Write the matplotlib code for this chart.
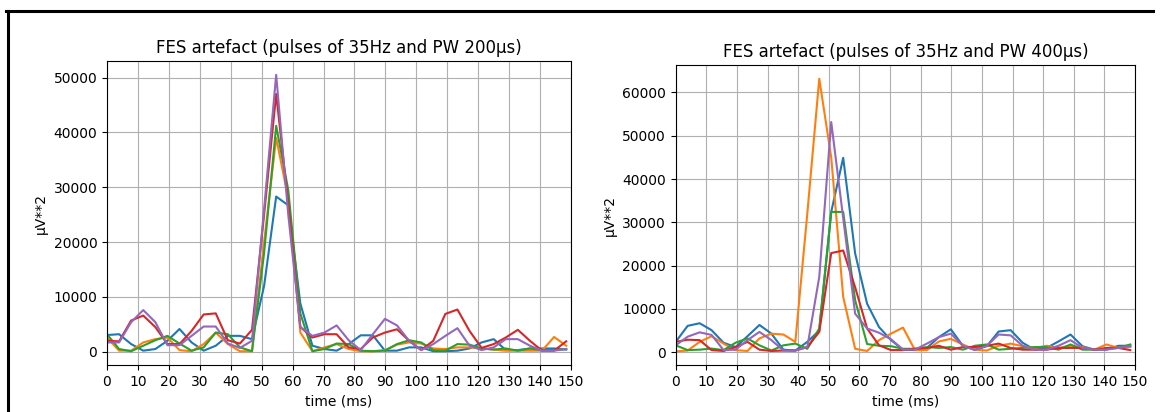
import numpy as np
import matplotlib.pyplot as plt
from matplotlib.lines import Line2D

# sampling of the power envelope (256 Hz -> one sample every 3.9 ms)
fs = 256
n_samples = 39
time_ms = np.arange(n_samples) * 1000 / fs

# PW 200us, five channels
pw200_c1 = [3050, 3200, 1400, 200, 500, 2000, 4150, 1700, 200, 1100, 2900, 2900, 2300,
            12000, 28300, 26700, 8800, 1100, 500, 200, 1400, 3000, 3000, 200, 200, 800,
            800, 100, 100, 200, 600, 1700, 2300, 300, 300, 600, 600, 600, 400]
pw200_c2 = [2600, 200, 200, 1700, 2300, 2600, 300, 100, 1400, 3500, 1400, 100, 100,
            20000, 39000, 28000, 3500, 100, 800, 1400, 500, 100, 100, 300, 1300, 1700,
            1500, 600, 500, 800, 800, 600, 400, 200, 200, 200, 200, 2700, 1100]
pw200_c3 = [3200, 500, 100, 1100, 2100, 2900, 1500, 200, 800, 3500, 3200, 800, 100,
            18000, 41200, 29500, 7000, 100, 500, 1500, 1400, 200, 100, 200, 1400, 2100,
            1700, 300, 200, 1400, 1300, 600, 400, 600, 200, 600, 300, 300, 500]
pw200_c4 = [2000, 1900, 5700, 6600, 4500, 1400, 1400, 3800, 6800, 7000, 2100, 1500, 4000,
            25000, 47000, 27000, 4500, 2600, 3200, 3200, 800, 500, 2600, 3500, 4100, 2000,
            300, 2000, 6900, 7700, 3800, 700, 1400, 2600, 4000, 2000, 200, 200, 1900]
pw200_c5 = [1700, 1700, 5400, 7600, 5400, 1200, 1200, 2900, 4600, 4600, 1500, 700, 2000,
            26000, 50500, 25000, 4500, 2900, 3500, 4800, 2100, 300, 3200, 6000, 4800, 2000,
            300, 1400, 2900, 4300, 1100, 300, 800, 2300, 2300, 1100, 200, 200, 500]

# PW 400us, five channels
pw400_c1 = [2400, 6100, 6700, 5100, 2200, 1200, 3700, 6300, 4300, 600, 400, 2400, 5000,
            32400, 44900, 22800, 11200, 5800, 2800, 600, 500, 1000, 3500, 5300, 1500, 600,
            1400, 4800, 5100, 2200, 600, 1000, 2500, 4100, 1400, 600, 600, 1500, 1500]
pw400_c2 = [200, 400, 2400, 3700, 2000, 500, 300, 3200, 4300, 4100, 2400, 32000, 63150,
            45000, 12800, 800, 300, 2800, 4300, 5700, 500, 500, 2500, 3100, 1800, 600, 400,
            1500, 2000, 1400, 1000, 1500, 1000, 1500, 1200, 600, 1800, 1000, 1200]
pw400_c3 = [1600, 500, 600, 850, 500, 2200, 3200, 1600, 400, 1600, 2000, 800, 5500,
            32400, 32400, 12000, 1900, 1500, 1400, 800, 800, 1200, 1000, 1200, 600, 1500,
            1800, 600, 800, 1000, 1200, 1200, 600, 1800, 600, 600, 800, 1000, 1800]
pw400_c4 = [2400, 2900, 2800, 500, 300, 1200, 2400, 600, 300, 400, 400, 1200, 4700,
            22900, 23500, 15000, 5500, 1600, 500, 500, 800, 1000, 1500, 600, 1200, 1200,
            1500, 2000, 1000, 600, 600, 600, 1000, 1000, 1000, 600, 1000, 1000, 500]
pw400_c5 = [1600, 3600, 4600, 4000, 500, 600, 2800, 4700, 2800, 400, 400, 1200, 17400,
            53150, 31000, 8900, 5500, 4500, 3000, 600, 600, 2000, 3500, 4300, 1500, 500,
            1500, 4100, 3900, 1500, 600, 600, 1500, 2800, 1000, 600, 600, 1000, 1400]

x_ticks = np.arange(0, 151, 10)

fig = plt.figure(figsize=(11.63, 4.12), dpi=100)

panels = [
    ([0.092, 0.114, 0.399, 0.738], "FES artefact (pulses of 35Hz and PW 200µs)",
     [pw200_c1, pw200_c2, pw200_c3, pw200_c4, pw200_c5]),
    ([0.581, 0.114, 0.395, 0.728], "FES artefact (pulses of 35Hz and PW 400µs)",
     [pw400_c1, pw400_c2, pw400_c3, pw400_c4, pw400_c5]),
]

for rect, title, channels in panels:
    ax = fig.add_axes(rect)
    for ch in channels:
        ax.plot(time_ms, ch)
    ax.set_xlim(0, 150)
    ax.set_xticks(x_ticks)
    ax.grid(True)
    ax.set_title(title)
    ax.set_xlabel("time (ms)")
    ax.set_ylabel("µV**2")

# black frame around the output cell
fig.add_artist(Line2D([6 / 1163, 1153 / 1163], [1 - 10.5 / 412, 1 - 10.5 / 412],
                      transform=fig.transFigure, color="black", lw=2.2))
fig.add_artist(Line2D([7.5 / 1163, 7.5 / 1163], [0, 1 - 10.5 / 412],
                      transform=fig.transFigure, color="black", lw=2.2))

fig.savefig("out.png", dpi=100)
